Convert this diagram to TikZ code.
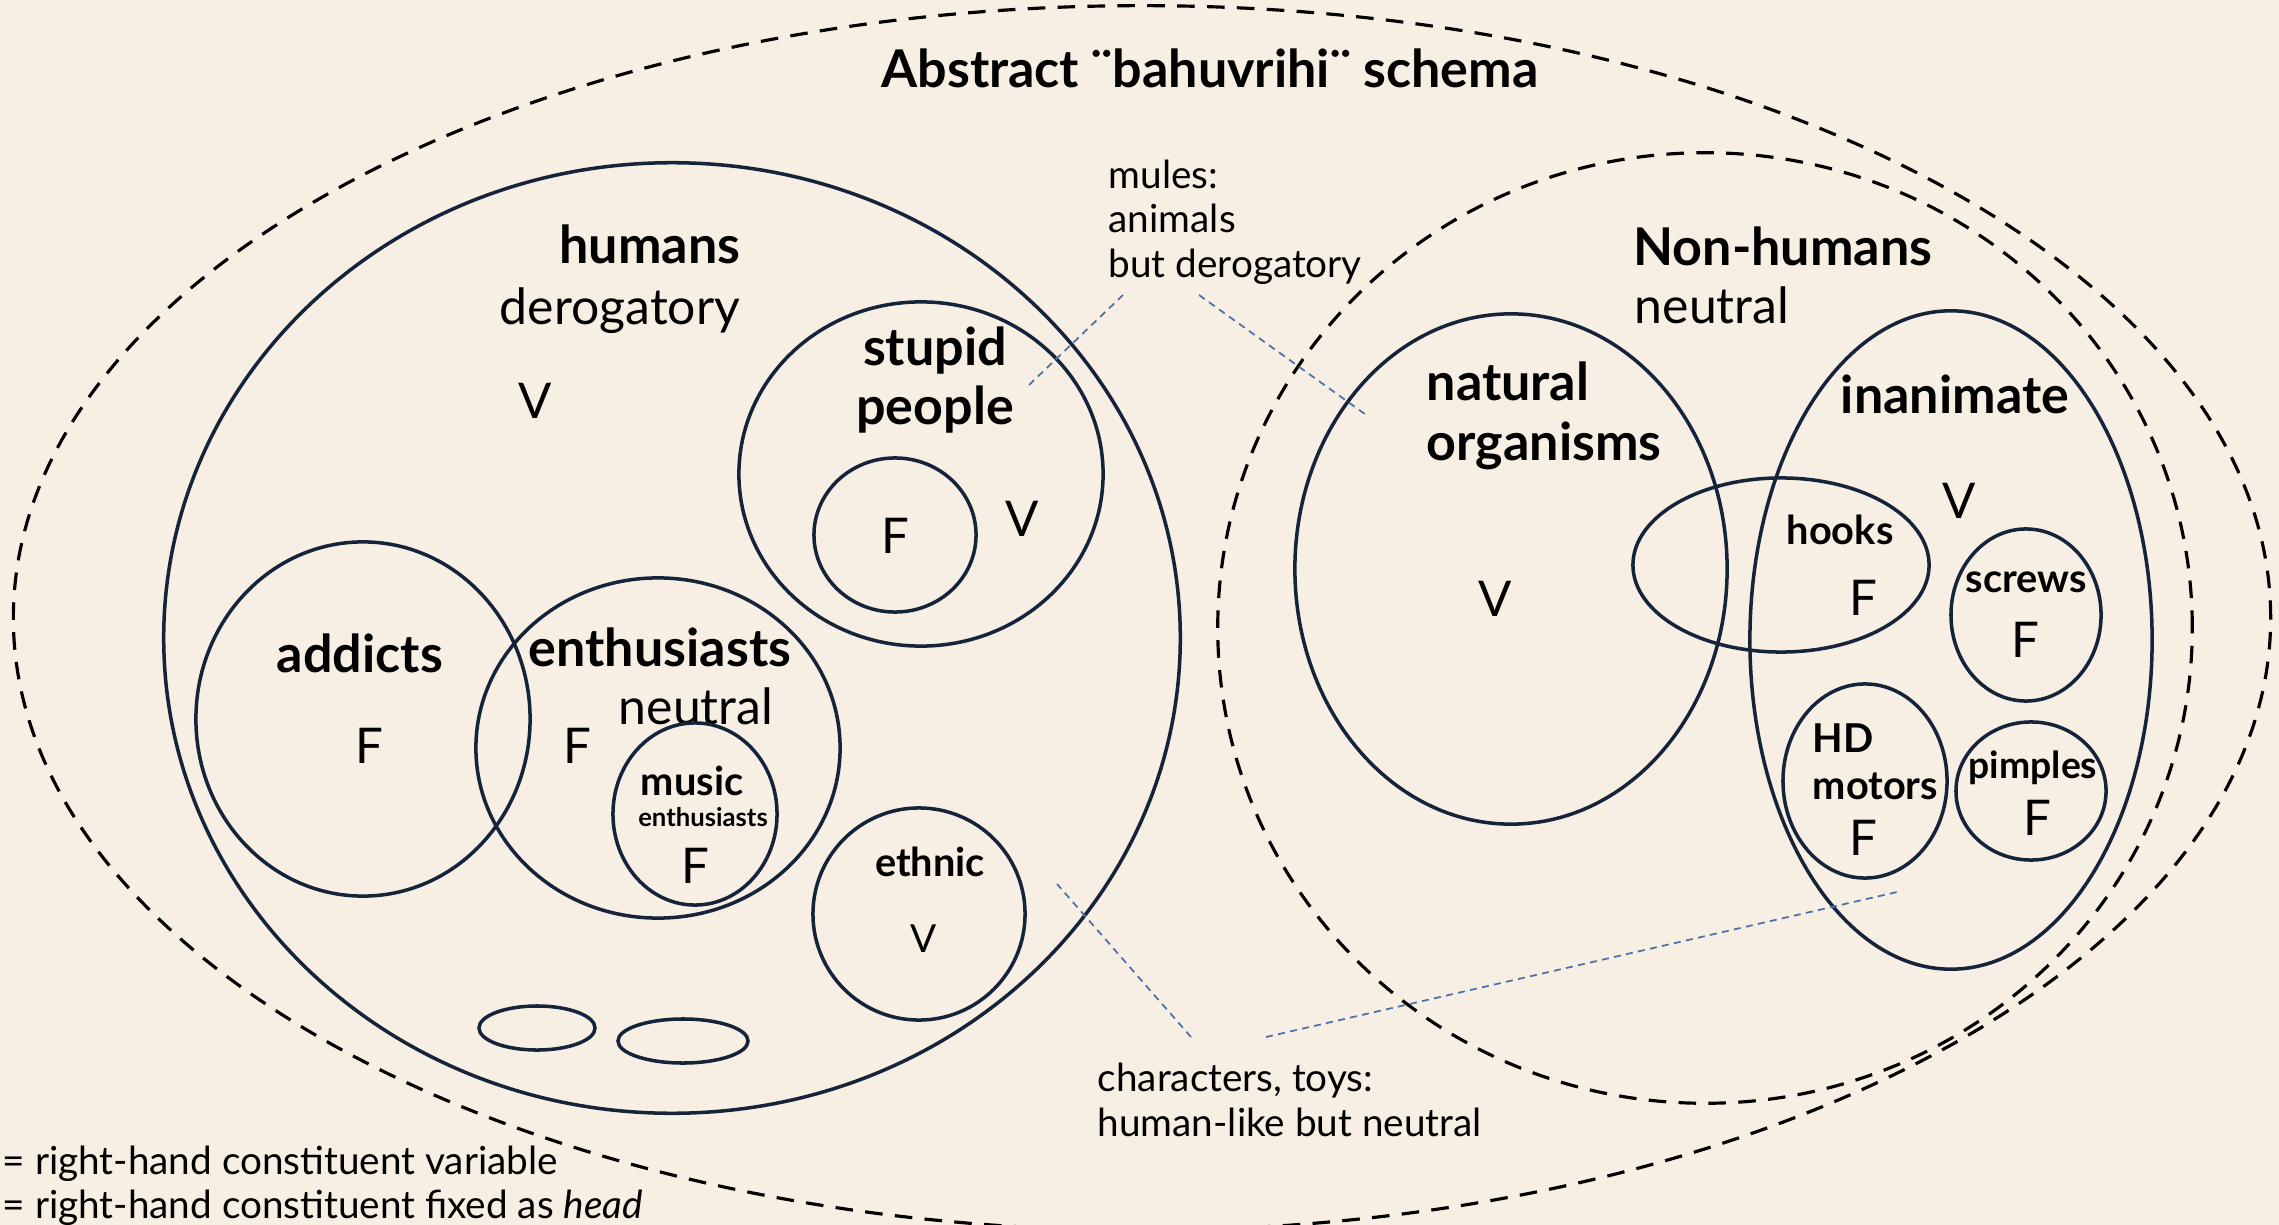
\documentclass[tikz,border=0pt]{standalone}
\usepackage{fontspec}
\setmainfont{Lato}
\usetikzlibrary{shapes.geometric}
\definecolor{paper}{HTML}{F7EFE3}
\definecolor{ink}{HTML}{15243A}
\definecolor{lead}{HTML}{4C72A8}
\begin{document}
\begin{tikzpicture}[x=0.01cm, y=-0.01cm]
      \tikzstyle{set} = [ellipse, draw=ink, line width=1pt, inner sep=0pt]
      \tikzstyle{realm} = [ellipse, draw=black, line width=0.9pt, dash pattern=on 5pt off 3.5pt, inner sep=0pt]
      \tikzstyle{heading} = [font=\fontsize{14.8}{18}\selectfont\bfseries]
      \tikzstyle{big} = [font=\fontsize{14.8}{17}\selectfont\bfseries, align=center, inner sep=0pt]
      \tikzstyle{small} = [font=\fontsize{11.3}{13.4}\selectfont\bfseries, align=center, inner sep=0pt]
      \tikzstyle{tone} = [font=\fontsize{14.2}{17}\selectfont, inner sep=0pt]
      \tikzstyle{letter} = [font=\fontsize{14}{17}\selectfont, inner sep=0pt]
      \tikzstyle{note} = [font=\fontsize{11}{12.6}\selectfont, align=left, anchor=west, inner sep=0pt]
      \tikzstyle{leader} = [draw=lead, line width=0.5pt, dash pattern=on 2pt off 1.5pt]

      \useasboundingbox (0,0) rectangle (2279,1225);
      \fill [paper] (0,0) rectangle (2279,1225);
      \clip (0,0) rectangle (2279,1225);

      \node (all) [realm, minimum width=22.56cm, minimum height=12.24cm] at (1142,618) {};
      \node (title) [heading] at (1210,68) {Abstract ¨bahuvrihi¨ schema};

      \node (humans) [set, minimum width=10.16cm, minimum height=9.50cm] at (672,638) {};
      \node (humansL) [big] at (650,244) {humans};
      \node (humansT) [tone] at (620,311) {derogatory};
      \node (humansV) [letter] at (535,401) {V};

      \node (stupid) [set, minimum width=3.64cm, minimum height=3.44cm] at (921,474) {};
      \node (stupidL) [big] at (935,380) {stupid\\people};
      \node (stupidF) [set, minimum width=1.62cm, minimum height=1.54cm] at (895,535) {};
      \node (stupidFL) [letter] at (895,536) {F};
      \node (stupidV) [letter] at (1022,519) {V};

      \node (addicts) [set, minimum width=3.34cm, minimum height=3.54cm] at (363,719) {};
      \node (addictsL) [big] at (360,653) {addicts};
      \node (addictsF) [letter] at (369,746) {F};

      \node (enth) [set, minimum width=3.64cm, minimum height=3.40cm] at (658,748) {};
      \node (enthL) [big] at (660,647) {enthusiasts};
      \node (enthT) [tone] at (696,706) {neutral};
      \node (enthF) [letter] at (577,746) {F};

      \node (music) [set, minimum width=1.64cm, minimum height=1.82cm] at (695,814) {};
      \node (musicL) [small] at (692,781) {music};
      \node (musicS) [small, font=\fontsize{7.3}{8}\selectfont\bfseries] at (703,817) {enthusiasts};
      \node (musicF) [letter] at (695,866) {F};

      \node (ethnic) [set, minimum width=2.12cm, minimum height=2.12cm] at (919,914) {};
      \node (ethnicL) [small] at (930,862) {ethnic};
      \node (ethnicV) [letter, font=\fontsize{11}{13}\selectfont] at (924,939) {V};

      \node (blobA) [set, minimum width=1.16cm, minimum height=0.44cm] at (537,1028) {};
      \node (blobB) [set, minimum width=1.30cm, minimum height=0.44cm] at (683,1041) {};

      \node (nonhum) [realm, minimum width=9.74cm, minimum height=9.50cm] at (1705,628) {};
      \node (nonhumL) [big] at (1783,246) {Non-humans};
      \node (nonhumT) [tone] at (1712,305) {neutral};

      \node (natural) [set, minimum width=4.32cm, minimum height=5.10cm] at (1511,569) {};
      \node (naturalL) [big, align=left, anchor=west] at (1426,416) {natural\\organisms};
      \node (naturalV) [letter] at (1495,599) {V};

      \node (inanim) [set, minimum width=4.02cm, minimum height=6.58cm] at (1951,640) {};
      \node (inanimL) [big] at (1955,394) {inanimate};
      \node (inanimV) [letter] at (1959,501) {V};

      \node (hooks) [set, minimum width=2.96cm, minimum height=1.74cm] at (1781,565) {};
      \node (hooksL) [small] at (1840,530) {hooks};
      \node (hooksF) [letter] at (1863,598) {F};

      \node (screws) [set, minimum width=1.50cm, minimum height=1.72cm] at (2026,615) {};
      \node (screwsL) [small] at (2026,582) {screws};
      \node (screwsF) [letter] at (2025,640) {F};

      \node (motors) [set, minimum width=1.64cm, minimum height=1.94cm] at (1865,781) {};
      \node (motorsL) [small, align=left, anchor=west] at (1812,762) {HD\\motors};
      \node (motorsF) [letter] at (1863,838) {F};

      \node (pimples) [set, minimum width=1.50cm, minimum height=1.38cm] at (2031,791) {};
      \node (pimplesL) [small, font=\fontsize{10.6}{13}\selectfont\bfseries] at (2033,768) {pimples};
      \node (pimplesF) [letter] at (2037,818) {F};

      \node (mules) [note] at (1108,222) {mules:\\animals\\but derogatory};
      \node (toys) [note] at (1097,1100) {characters, toys:\\human-like but neutral};

      \coordinate (mulesA) at (1123,295);
      \coordinate (mulesB) at (1199,295);
      \coordinate (toysA) at (1191,1037);
      \coordinate (toysB) at (1266,1037);
      \coordinate (stupidE) at (1029,385);
      \coordinate (naturalE) at (1369,417);
      \coordinate (ethnicE) at (1057,884);
      \coordinate (motorsE) at (1897,892);

      \draw [leader] (mulesA) -- (stupidE);
      \draw [leader] (mulesB) -- (naturalE);
      \draw [leader] (toysA) -- (ethnicE);
      \draw [leader] (toysB) -- (motorsE);

      \node (keyV) [note] at (2,1164) {= right-hand constituent variable};
      \node (keyF) [note] at (2,1208) {= right-hand constituent fixed as \textit{head}};
\end{tikzpicture}
\end{document}
